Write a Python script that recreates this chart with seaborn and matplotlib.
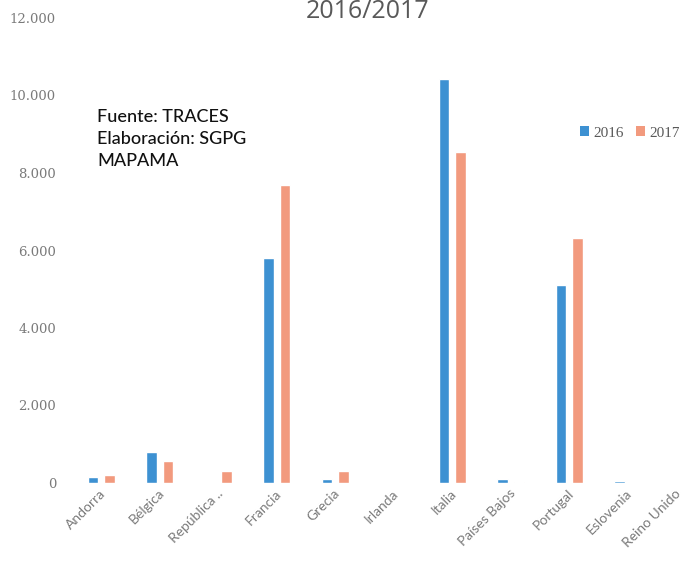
import matplotlib
matplotlib.use("Agg")
import matplotlib.pyplot as plt
import matplotlib.transforms as mtransforms
import seaborn as sns
import pandas as pd
from matplotlib.patches import Patch

categories = ["Andorra", "Bélgica", "República ..", "Francia", "Grecia", "Irlanda",
              "Italia", "Países Bajos", "Portugal", "Eslovenia", "Reino Unido"]
values_2016 = [150, 800, 0, 5810, 100, 0, 10430, 100, 5110, 50, 0]
values_2017 = [200, 570, 310, 7700, 310, 0, 8540, 30, 6320, 0, 0]
years = ["2016", "2017"]
ytick_values = [0, 2000, 4000, 6000, 8000, 10000, 12000]
ytick_labels = ["0", "2.000", "4.000", "6.000", "8.000", "10.000", "12.000"]

df = pd.DataFrame({
    "pais": categories * 2,
    "valor": values_2016 + values_2017,
    "año": [years[0]] * len(categories) + [years[1]] * len(categories),
})

sns.set_style("white")
plt.rcParams['font.family'] = ['Open Sans', 'DejaVu Sans']

W, H = 687, 564
fig = plt.figure(figsize=(W / 100, H / 100), dpi=100)
ax = fig.add_axes([72 / W, 81 / H, 643.5 / W, 465 / H])

palette = {"2016": "#3d91d2", "2017": "#f29a7e"}
sns.barplot(data=df, x="pais", y="valor", hue="año", palette=palette,
            width=0.55, gap=0.35, ax=ax, legend=False, saturation=1)

ax.set_ylim(0, 12000)
ax.set_xlim(-0.5, len(categories) - 0.5)
ax.set_yticks(ytick_values)
ax.set_yticklabels(ytick_labels, fontfamily="DejaVu Serif", fontsize=9.5, color="#7a7a7a")
ax.tick_params(axis="y", length=0, pad=11.5)
ax.tick_params(axis="x", length=0, pad=3)
ax.set_xticks(range(len(categories)))
ax.set_xticklabels(categories, rotation=45, ha="right", rotation_mode="anchor",
                   fontsize=10, color="#7a7a7a", fontfamily="Lato")
labels = ax.get_xticklabels()
for i, lbl in enumerate(labels):
    dx = -2 if i < len(labels) - 1 else -12
    offset = mtransforms.ScaledTranslation(dx / 100, 0, fig.dpi_scale_trans)
    lbl.set_transform(lbl.get_transform() + offset)
for s in ax.spines.values():
    s.set_visible(False)
ax.set_xlabel("")
ax.set_ylabel("")

fig.text(368 / W, 1 - 12 / H, "2016/2017", ha="center", va="center",
         fontsize=18, color="#595959")

fig.text(97 / W, 1 - 139 / H, "Fuente: TRACES\nElaboración: SGPG\nMAPAMA",
         ha="left", va="center", fontsize=13, color="#111111", linespacing=1.5,
         fontfamily="Lato", fontweight="medium")

handles = [Patch(facecolor=palette[y], edgecolor="none") for y in years]
leg = fig.legend(handles, years, loc="center", bbox_to_anchor=(630 / W, 1 - 133 / H),
                 ncol=2, frameon=False, handlelength=0.6, handleheight=0.6,
                 handletextpad=0.3, columnspacing=0.8,
                 prop={"family": "Liberation Serif", "size": 11})
for t in leg.get_texts():
    t.set_color("#595959")

fig.savefig("out.png", dpi=100)
